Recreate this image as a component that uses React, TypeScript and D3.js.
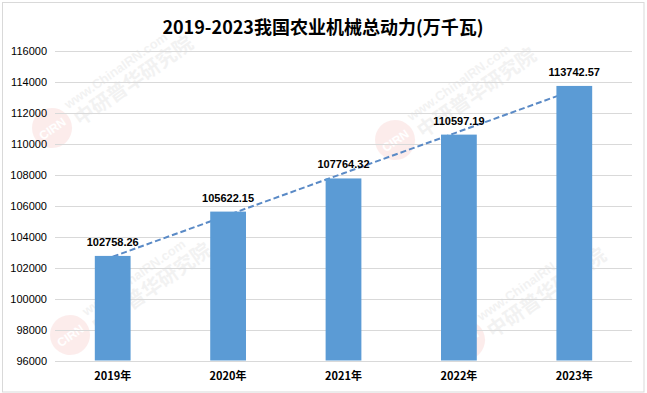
import React from "react";
import * as d3 from "d3";

const years = ["2019年", "2020年", "2021年", "2022年", "2023年"];
const power = [102758.26, 105622.15, 107764.32, 110597.19, 113742.57];
const yTicks = [96000, 98000, 100000, 102000, 104000, 106000, 108000, 110000, 112000, 114000, 116000];
const title = "2019-2023我国农业机械总动力(万千瓦)";

const width = 647;
const height = 393;
const margin = { top: 51, right: 15, bottom: 32.5, left: 55 };

// linear trendline, same as the spreadsheet one
const fitLine = (vals: number[]) => {
  const n = vals.length;
  const mx = (n - 1) / 2;
  const my = d3.mean(vals) as number;
  let num = 0;
  let den = 0;
  vals.forEach((v, i) => {
    num += (i - mx) * (v - my);
    den += (i - mx) * (i - mx);
  });
  const slope = num / den;
  return vals.map((_, i) => my + slope * (i - mx));
};

const Watermark = ({ x, y }: { x: number; y: number }) => (
  <g transform={`translate(${x},${y}) rotate(-35)`} opacity={0.1}>
    <circle cx={0} cy={0} r={20} fill="#e8504a" />
    <text x={0} y={5} textAnchor="middle" fontSize={12} fontWeight="bold" fill="#fff" fontFamily="Liberation Sans">
      CIRN
    </text>
    <text x={24} y={-6} fontSize={13} fontWeight="bold" fill="#888" fontFamily="Liberation Sans">
      www.ChinaIRN.com
    </text>
    <text x={24} y={15} fontSize={20} fontWeight="bold" fill="#888" fontFamily="Noto Sans CJK SC">
      中研普华研究院
    </text>
  </g>
);

export default function App() {
  const x = d3
    .scaleBand<string>()
    .domain(years)
    .range([margin.left, width - margin.right])
    .paddingInner(0.69)
    .paddingOuter(0.345);

  const y = d3
    .scaleLinear()
    .domain([96000, 116000])
    .range([height - margin.bottom, margin.top]);

  const trend = fitLine(power);
  const line = d3
    .line<number>()
    .x((_, i) => (x(years[i]) as number) + x.bandwidth() / 2)
    .y((d) => y(d));

  return (
    <svg
      width={width}
      height={height}
      style={{ position: "absolute", left: 0, top: 0, background: "#fff" }}
    >
      <rect x={2.5} y={2.5} width={641.5} height={389.5} fill="#fff" stroke="#d9d9d9" />

      <Watermark x={52} y={128} />
      <Watermark x={395} y={140} />
      <Watermark x={70} y={335} />
      <Watermark x={465} y={340} />

      <text
        x={323}
        y={34}
        textAnchor="middle"
        fontSize={18}
        fontWeight="bold"
        fontFamily="Noto Sans CJK SC"
        fill="#000"
      >
        {title}
      </text>

      {yTicks.map((t) => (
        <g key={t}>
          <line
            x1={margin.left}
            x2={width - margin.right}
            y1={Math.round(y(t)) + 0.5}
            y2={Math.round(y(t)) + 0.5}
            stroke="#d9d9d9"
          />
          <text
            x={47}
            y={y(t) + 4}
            textAnchor="end"
            fontSize={11}
            fontFamily="Liberation Sans"
            fill="#000"
          >
            {t}
          </text>
        </g>
      ))}

      <path
        d={line(trend) as string}
        fill="none"
        stroke="#5a8ac6"
        strokeWidth={2}
        strokeDasharray="6,3"
      />

      {power.map((v, i) => (
        <g key={years[i]}>
          <rect
            x={x(years[i])}
            y={y(v)}
            width={x.bandwidth()}
            height={y(96000) - y(v)}
            fill="#5b9bd5"
          />
          <text
            x={(x(years[i]) as number) + x.bandwidth() / 2}
            y={y(v) - 10}
            textAnchor="middle"
            fontSize={11}
            fontWeight="bold"
            fontFamily="Liberation Sans"
            fill="#000"
          >
            {v.toFixed(2)}
          </text>
          <text
            x={(x(years[i]) as number) + x.bandwidth() / 2}
            y={380}
            textAnchor="middle"
            fontSize={11}
            fontWeight="bold"
            fontFamily="Noto Sans CJK SC"
            fill="#000"
          >
            {years[i]}
          </text>
        </g>
      ))}
    </svg>
  );
}
